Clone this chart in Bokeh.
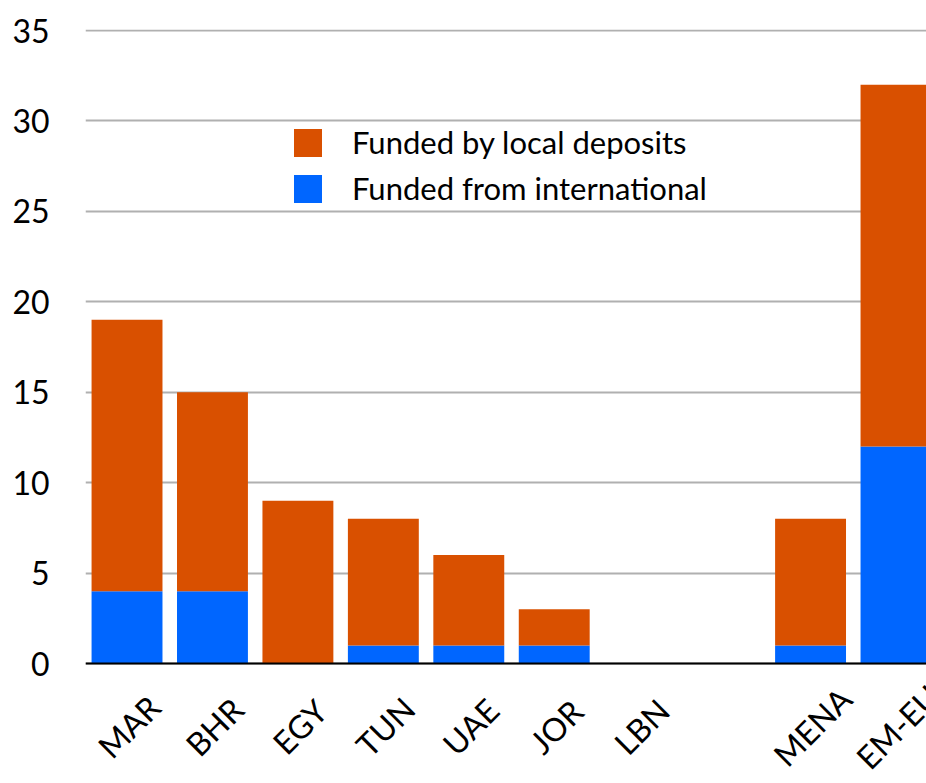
import math
from bokeh.plotting import figure
from bokeh.models import ColumnDataSource, Range1d, FixedTicker, Legend, LegendItem, Span
from bokeh.core.properties import value
from bokeh.embed import file_html
from bokeh.resources import INLINE

categories = ["MAR", "BHR", "EGY", "TUN", "UAE", "JOR", "LBN", "", "MENA", "EM-EU"]
international = [4, 4, 0, 1, 1, 1, 0, 0, 1, 12]
local = [15, 11, 9, 7, 5, 2, 0, 0, 7, 20]
y_ticks = [0, 5, 10, 15, 20, 25, 30, 35]

FONT = "Lato"
ORANGE = "#D95000"
BLUE = "#0066FF"

PX_PER_UNIT = 633 / 35.0
x = list(range(len(categories)))
src = ColumnDataSource(dict(x=x, international=international, local=local))

y_top = 35 + 1 / PX_PER_UNIT
y_bottom = y_top - 754 / PX_PER_UNIT

p = figure(width=926, height=783, output_backend="svg", toolbar_location=None,
           x_range=Range1d(-0.486, 9.357), y_range=Range1d(y_bottom, y_top),
           min_border_left=85, min_border_top=29, min_border_bottom=0,
           min_border_right=0)
p.outline_line_color = None
p.background_fill_color = "white"
p.border_fill_color = "white"

rs = p.vbar_stack(["international", "local"], x="x", width=0.83, source=src,
                  color=[BLUE, ORANGE], line_color=None)

# x-axis baseline and rotated category labels
p.xaxis.visible = False
p.add_layout(Span(location=0, dimension="width", line_color="black", line_width=2))
label_y = -63 / PX_PER_UNIT
lab_src = ColumnDataSource(dict(x=[i + 0.02 for i in x], y=[label_y] * len(x), text=categories))
p.text(x="x", y="y", text="text", source=lab_src, angle=math.pi / 4,
       text_align="center", text_baseline="middle", text_font=value(FONT),
       text_font_size="32px", text_color="black")

p.yaxis.ticker = FixedTicker(ticks=y_ticks)
p.yaxis.major_label_text_font = FONT
p.yaxis.major_label_text_font_size = "32px"
p.yaxis.major_label_text_color = "black"
p.yaxis.major_tick_line_color = None
p.yaxis.minor_tick_line_color = None
p.yaxis.axis_line_color = None
p.yaxis.major_label_standoff = 30

p.xgrid.grid_line_color = None
p.ygrid.grid_line_color = "#B0B0B0"
p.ygrid.grid_line_width = 2

legend = Legend(items=[LegendItem(label="Funded by local deposits", renderers=[rs[1]]),
                       LegendItem(label="Funded from international", renderers=[rs[0]])],
                location=(205, 576), orientation="vertical")
legend.label_text_font = FONT
legend.label_text_font_size = "31px"
legend.label_text_color = "black"
legend.glyph_width = 35
legend.glyph_height = 35
legend.label_height = 35
legend.label_standoff = 27
legend.spacing = 8
legend.padding = 0
legend.margin = 0
legend.border_line_color = None
legend.background_fill_color = "white"
legend.background_fill_alpha = 1.0
p.add_layout(legend, "center")

open("out.html", "w").write(file_html(p, INLINE))
